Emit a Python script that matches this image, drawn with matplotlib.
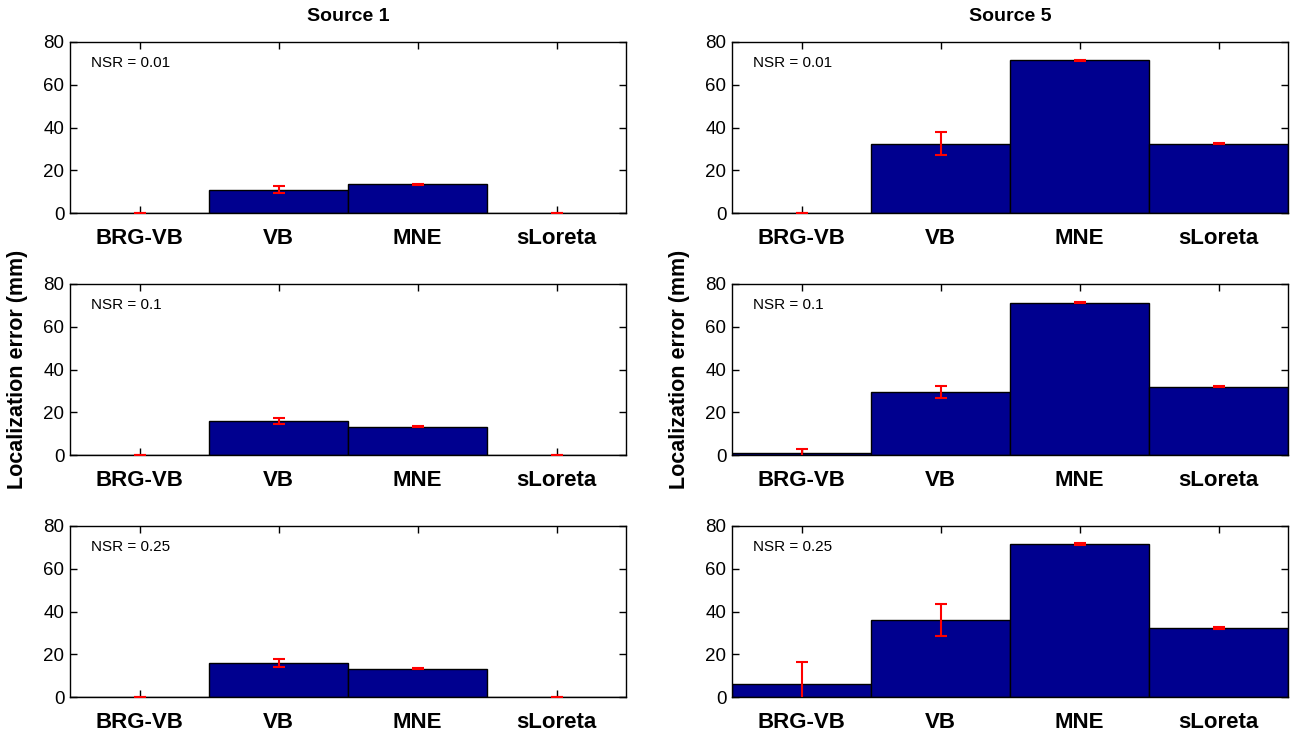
import matplotlib
matplotlib.use('Agg')
import matplotlib.pyplot as plt
import numpy as np

plt.rcParams['font.family'] = ['Liberation Sans', 'DejaVu Sans']

methods = ['BRG-VB', 'VB', 'MNE', 'sLoreta']
nsr_labels = ['NSR = 0.01', 'NSR = 0.1', 'NSR = 0.25']
sources = ['Source 1', 'Source 5']

# mean localization error (mm), one row per NSR level
src1_mean = [[0, 10.8, 13.5, 0],
             [0, 15.9, 13.3, 0],
             [0, 15.9, 13.3, 0]]
src1_err = [[0, 1.6, 0.3, 0],
            [0, 1.5, 0.3, 0],
            [0, 1.9, 0.3, 0]]

src5_mean = [[0, 32.5, 71.4, 32.4],
             [0.8, 29.6, 71.3, 32.0],
             [5.9, 36.0, 71.6, 32.3]]
src5_err = [[0, 5.4, 0.3, 0.3],
            [2.1, 2.8, 0.3, 0.3],
            [10.7, 7.4, 0.3, 0.3]]

means = [src1_mean, src5_mean]
errs = [src1_err, src5_err]

fig = plt.figure(figsize=(12.93, 7.33), dpi=100)

col_x = [70 / 1293, 732 / 1293]
ax_w = 556 / 1293
row_bottom = [1 - 213 / 733, 1 - 455 / 733, 1 - 697 / 733]
ax_h = 171 / 733

x = np.arange(1, len(methods) + 1)

for c in range(2):
    for r in range(3):
        ax = fig.add_axes([col_x[c], row_bottom[r], ax_w, ax_h])
        ax.bar(x, means[c][r], width=1.0, color='#00008F', edgecolor='black', linewidth=1.0, zorder=2)
        ax.errorbar(x, means[c][r], yerr=errs[c][r], fmt='none', ecolor='red',
                    elinewidth=1.5, capsize=4, capthick=1.5, zorder=3)
        ax.set_xlim(0.5, 4.5)
        ax.set_ylim(0, 80)
        ax.set_yticks([0, 20, 40, 60, 80])
        ax.set_xticks(x)
        ax.set_xticklabels(methods, fontsize=16, fontweight='bold')
        ax.tick_params(axis='y', labelsize=13.5, pad=4)
        ax.tick_params(direction='in', top=True, right=True, length=5, width=1)
        ax.tick_params(axis='x', pad=11)
        for s in ax.spines.values():
            s.set_linewidth(1.0)
        ax.text(0.038, 0.877, nsr_labels[r], transform=ax.transAxes, fontsize=11,
                va='center', ha='left')
        if r == 0:
            ax.set_title(sources[c], fontsize=14, fontweight='bold', pad=15)
        if r == 1:
            ax.set_ylabel('Localization error (mm)', fontsize=15.5, fontweight='bold', labelpad=11)

fig.savefig('out.png', dpi=100)
